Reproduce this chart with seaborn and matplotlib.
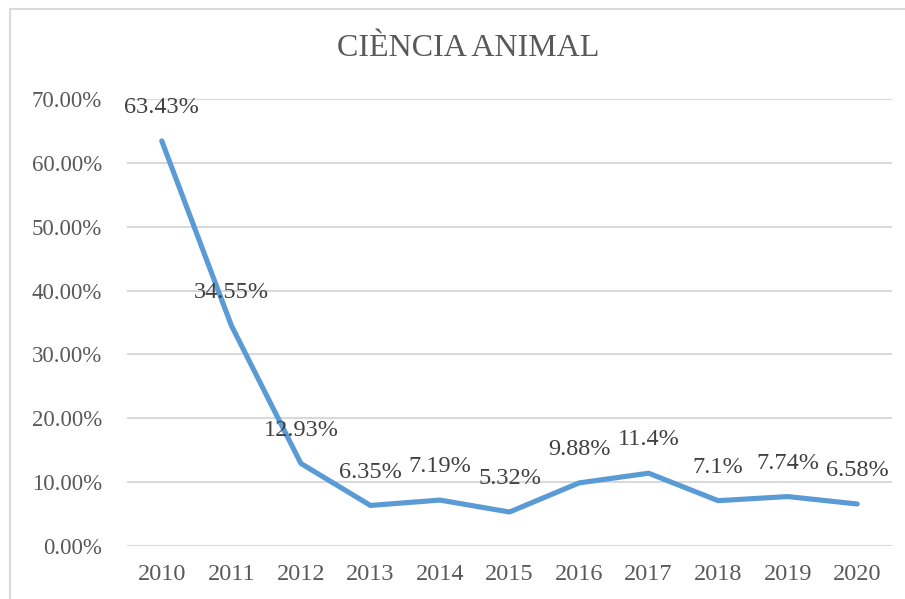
import seaborn as sns
import matplotlib.pyplot as plt
import pandas as pd
from matplotlib.patches import Rectangle

years = ['2010', '2011', '2012', '2013', '2014', '2015', '2016', '2017', '2018', '2019', '2020']
values = [63.43, 34.55, 12.93, 6.35, 7.19, 5.32, 9.88, 11.4, 7.1, 7.74, 6.58]
labels = ['63.43%', '34.55%', '12.93%', '6.35%', '7.19%', '5.32%', '9.88%', '11.4%', '7.1%', '7.74%', '6.58%']

sns.set_style("white")
plt.rcParams['font.family'] = ['Liberation Serif', 'DejaVu Serif']
text_color = '#595959'

df = pd.DataFrame({'year': years, 'value': values})

fig = plt.figure(figsize=(9.05, 5.99), dpi=100)
ax = fig.add_axes([127 / 905, 1 - 546 / 599, 765 / 905, 447 / 599])

# outer chart frame
fig.patches.append(Rectangle((10 / 905, -0.1), 1.0, 1 - 9 / 599 + 0.1, transform=fig.transFigure,
                             fill=False, edgecolor='#d9d9d9', linewidth=1.5))

sns.lineplot(data=df, x='year', y='value', ax=ax, color='#5b9bd5', linewidth=3.7, sort=False)

for i, (v, lab) in enumerate(zip(values, labels)):
    ax.annotate(lab, (i, v), xytext=(0, 24), textcoords='offset points', ha='center', va='center',
                fontsize=17.5, color='#404040')

ax.set_ylim(0, 70)
ax.set_xlim(-0.5, len(years) - 0.5)
ax.set_yticks(range(0, 71, 10))
ax.set_yticklabels([f'{t:.2f}%' for t in range(0, 71, 10)])
ax.yaxis.grid(True, color='#d9d9d9', linewidth=1.5)
ax.set_axisbelow(True)
for s in ax.spines.values():
    s.set_visible(False)
ax.tick_params(axis='both', length=0, labelcolor=text_color)
ax.tick_params(axis='x', pad=13, labelsize=17.5)
ax.tick_params(axis='y', pad=18, labelsize=16.5)
ax.set_xlabel('')
ax.set_ylabel('')

fig.text(468 / 905, 1 - 48 / 599, 'CIÈNCIA ANIMAL', ha='center', va='center', fontsize=23, color=text_color)

fig.savefig('out.png', dpi=100)
